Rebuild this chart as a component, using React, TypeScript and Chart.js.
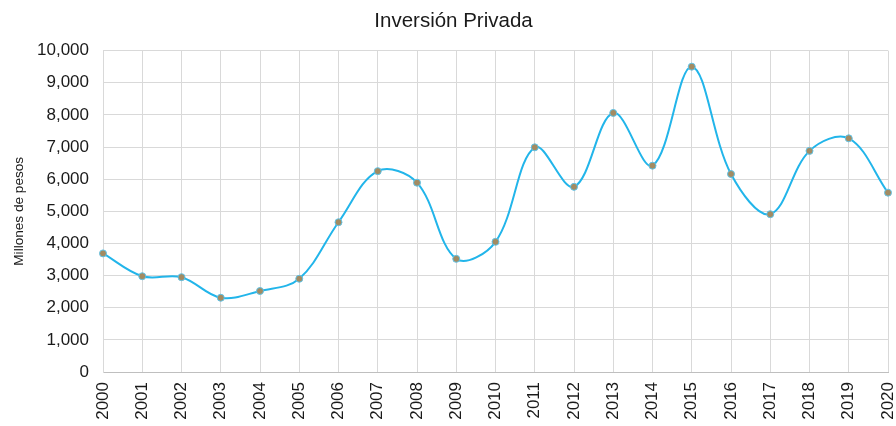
import React, { useEffect, useRef } from "react";
import { Chart, registerables } from "chart.js";

Chart.register(...registerables);

const years = ["2000","2001","2002","2003","2004","2005","2006","2007","2008","2009","2010","2011","2012","2013","2014","2015","2016","2017","2018","2019","2020"];
const inversion = [3690, 2980, 2950, 2310, 2520, 2900, 4660, 6250, 5890, 3520, 4050, 6990, 5760, 8060, 6420, 9500, 6160, 4910, 6880, 7270, 5580];
const chartTitle = "Inversión Privada";
const yTitle = "Millones de pesos";

const FONT = "'Liberation Sans', Arial, sans-serif";

export default function App() {
  const ref = useRef<HTMLCanvasElement>(null);
  useEffect(() => {
    document.body.style.margin = "0";
    const ctx = ref.current!;
    const chart = new Chart(ctx, {
      type: "line",
      data: {
        labels: years,
        datasets: [
          {
            label: chartTitle,
            data: inversion,
            borderColor: "#22B5EA",
            borderWidth: 2,
            backgroundColor: "#A38B62",
            pointBackgroundColor: "#A38B62",
            pointBorderColor: "#5FC3E8",
            pointBorderWidth: 1,
            pointRadius: 3.5,
            tension: 0.36,
            fill: false,
          },
        ],
      },
      options: {
        animation: false,
        responsive: false,
        maintainAspectRatio: false,
        layout: { padding: { left: 11, right: 0, top: 4, bottom: 0 } },
        plugins: {
          legend: { display: false },
          tooltip: { enabled: false },
          title: {
            display: true,
            text: chartTitle,
            color: "#1a1a1a",
            font: { family: FONT, size: 20.5, weight: "normal" },
            padding: { top: 5, bottom: 17 },
          },
        },
        scales: {
          x: {
            offset: false,
            grid: { color: "#d9d9d9", drawTicks: false },
            border: { color: "#bfbfbf" },
            afterFit: (s: any) => {
              s.paddingRight = 8;
              s.paddingLeft = 0;
              s.height = 54;
            },
            ticks: {
              minRotation: 90,
              maxRotation: 90,
              color: "#1a1a1a",
              padding: 10,
              font: { family: FONT, size: 17 },
            },
          },
          y: {
            min: 0,
            max: 10000,
            grid: { color: "#d9d9d9", drawTicks: false },
            border: { color: "#d9d9d9" },
            afterFit: (s: any) => {
              s.width = 92;
            },
            ticks: {
              stepSize: 1000,
              color: "#1a1a1a",
              padding: 14,
              font: { family: FONT, size: 17 },
              callback: (v: any) => Number(v).toLocaleString("en-US"),
            },
            title: {
              display: true,
              text: yTitle,
              color: "#1a1a1a",
              font: { family: FONT, size: 13.6 },
              padding: { top: 0, bottom: 1 },
            },
          },
        },
      },
    });
    return () => chart.destroy();
  }, []);
  return (
    <div style={{ position: "absolute", left: 0, top: 0, width: 896, height: 426 }}>
      <canvas ref={ref} width={896} height={426} style={{ width: 896, height: 426 }} />
    </div>
  );
}
